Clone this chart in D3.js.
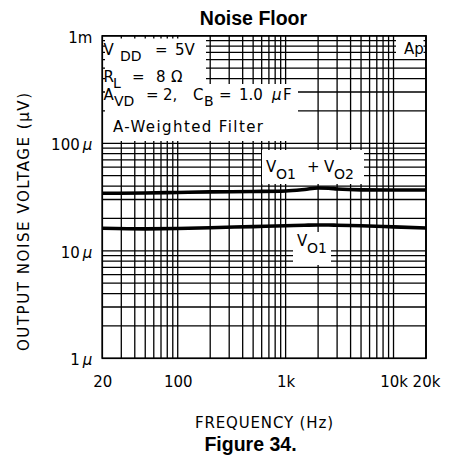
<!DOCTYPE html>
<html><head><meta charset="utf-8">
<script src="https://cdn.jsdelivr.net/npm/d3@7"></script>
<style>
html,body{margin:0;padding:0;background:#fff;}
svg text{fill:#000;}
.plot{font-family:"DejaVu Sans",sans-serif;}
</style></head>
<body>
<svg id="c" width="449" height="457"></svg>
<script>
// ---- data ----
const freqs = [20, 50, 100, 200, 500, 1000, 1500, 2000, 2500, 3000, 5000, 10000, 20000];
const vo1vo2 = [34.3, 34.5, 34.9, 35.3, 35.6, 36.0, 37.2, 38.4, 38.2, 37.6, 36.9, 36.8, 36.8]; // µV
const vo1 = [16.2, 16.0, 16.1, 16.4, 16.8, 17.1, 17.3, 17.4, 17.4, 17.3, 17.1, 16.7, 16.3];     // µV
const xTickValues = [20, 100, 1000, 10000, 20000];
const xTickLabels = ["20", "100", "1k", "10k", "20k"];
const yTickValues = [1, 10, 100, 1000];
const yTickLabels = ["1 µ", "10 µ", "100 µ", "1m"];

const svg = d3.select("#c");
const L = 102.3, R = 426, T = 35.8, B = 358.3;
const x = d3.scaleLog().domain([20, 20000]).range([L, R]);
const y = d3.scaleLog().domain([1, 1000]).range([B, T]);

// grid values
const xGrid = [];
for (let d = 10; d <= 10000; d *= 10) for (let m = 1; m <= 9; m++) { const v = m * d; if (v >= 20 && v <= 20000) xGrid.push(v); }
xGrid.push(20000);
const yGrid = [];
for (let d = 1; d <= 1000; d *= 10) for (let m = 1; m <= 9; m++) { const v = m * d; if (v <= 1000) yGrid.push(v); }

const g = svg.append("g").attr("class", "plot");
g.selectAll("line.vx").data(xGrid).join("line")
  .attr("x1", d => x(d)).attr("x2", d => x(d)).attr("y1", T).attr("y2", B)
  .attr("stroke", "#000").attr("stroke-width", 1.3);
g.selectAll("line.hy").data(yGrid).join("line")
  .attr("y1", d => y(d)).attr("y2", d => y(d)).attr("x1", L).attr("x2", R)
  .attr("stroke", "#000").attr("stroke-width", 1.3);

// white label boxes
const boxes = [
  [105, 38.5, 206, 86],
  [105, 84, 298, 114],
  [105, 113, 316, 141],
  [396, 38.5, 423.5, 57.5],
  [262, 150, 364, 184],
  [293, 232, 331, 265]
];
g.selectAll("rect.box").data(boxes).join("rect")
  .attr("x", d => d[0]).attr("y", d => d[1]).attr("width", d => d[2] - d[0]).attr("height", d => d[3] - d[1])
  .attr("fill", "#fff");

// frame
g.append("rect").attr("x", L).attr("y", T).attr("width", R - L).attr("height", B - T)
  .attr("fill", "none").attr("stroke", "#000").attr("stroke-width", 1.6);

// curves
const line = d3.line().x((d, i) => x(freqs[i])).y(d => y(d)).curve(d3.curveMonotoneX);
[vo1vo2, vo1].forEach(s => {
  g.append("path").attr("d", line(s)).attr("fill", "none").attr("stroke", "#000").attr("stroke-width", 3.6);
});

// axes
const xa = g.append("g").attr("transform", `translate(0,${B})`)
  .call(d3.axisBottom(x).tickValues(xTickValues).tickFormat((d, i) => xTickLabels[i]).tickSize(0).tickPadding(29));
xa.select(".domain").remove();
xa.selectAll("text").attr("font-family", "DejaVu Sans, sans-serif").attr("font-size", 15).attr("fill", "#000").attr("dy", 0);
xa.selectAll("text").attr("y", 29).attr("dominant-baseline", "auto");

const ya = g.append("g").attr("transform", `translate(${L},0)`)
  .call(d3.axisLeft(y).tickValues(yTickValues).tickFormat((d, i) => yTickLabels[i]).tickSize(0).tickPadding(10));
ya.select(".domain").remove();
ya.selectAll("text").each(function () {
  const t = d3.select(this);
  const s = t.text();
  t.text(null).attr("font-family", "DejaVu Sans, sans-serif").attr("font-size", 15).attr("fill", "#000")
    .attr("dy", "0.42em");
  if (s.includes(" µ")) {
    t.append("tspan").text(s.replace(" µ", ""));
    t.append("tspan").attr("dx", 3).attr("font-style", "italic").text("µ");
  } else {
    t.append("tspan").text(s);
  }
});

// rich annotation text helper
function rich(parts, size) {
  const t = g.append("text").attr("font-family", "DejaVu Sans, sans-serif").attr("font-size", size || 15);
  parts.forEach(p => {
    t.append("tspan").attr("x", p[0]).attr("y", p[1]).attr("font-size", p[3] || null)
      .attr("font-style", p[4] ? "italic" : null).text(p[2]);
  });
  return t;
}
rich([[103.5, 55, "V"], [120, 61, "DD", 14], [155, 55, "="], [175, 55, "5V"]]);
rich([[103.5, 82, "R"], [113, 88, "L", 14], [132, 82, "="], [156, 82, "8"], [171, 82, "Ω"]]);
rich([[103.5, 100, "A"], [114, 106, "VD", 14], [146, 100, "="], [163, 100, "2,"], [193, 100, "C"], [204, 106, "B", 14],
      [219, 100, "="], [239, 100, "1.0"], [272, 100, "µ", null, true], [283, 100, "F"]]);
g.append("text").attr("x", 113).attr("y", 132).attr("font-family", "DejaVu Sans, sans-serif").attr("font-size", 15)
  .attr("textLength", 150).attr("lengthAdjust", "spacing").text("A-Weighted Filter");
rich([[404, 54, "Ap"]]);
rich([[266, 172, "V"], [276, 179, "O1", 14], [307, 172, "+"], [324, 172, "V"], [334, 179, "O2", 14]]);
rich([[297, 246, "V"], [307, 253, "O1", 14]]);

// axis titles
svg.append("text").attr("x", 264).attr("y", 428).attr("text-anchor", "middle")
  .attr("font-family", "DejaVu Sans, sans-serif").attr("font-size", 15)
  .attr("textLength", 138).attr("lengthAdjust", "spacing").text("FREQUENCY (Hz)");
svg.append("text").attr("transform", "translate(29,222) rotate(-90)").attr("text-anchor", "middle")
  .attr("font-family", "DejaVu Sans, sans-serif").attr("font-size", 15)
  .attr("textLength", 258).attr("lengthAdjust", "spacing").text("OUTPUT NOISE VOLTAGE (µV)");

// title + caption
svg.append("text").attr("x", 253.5).attr("y", 25).attr("text-anchor", "middle")
  .attr("font-family", "Liberation Sans, Arial, sans-serif").attr("font-weight", "bold").attr("font-size", 19.5)
  .text("Noise Floor");
svg.append("text").attr("x", 250.5).attr("y", 451).attr("text-anchor", "middle")
  .attr("font-family", "Liberation Sans, Arial, sans-serif").attr("font-weight", "bold").attr("font-size", 19.5)
  .text("Figure 34.");
</script>
</body></html>
